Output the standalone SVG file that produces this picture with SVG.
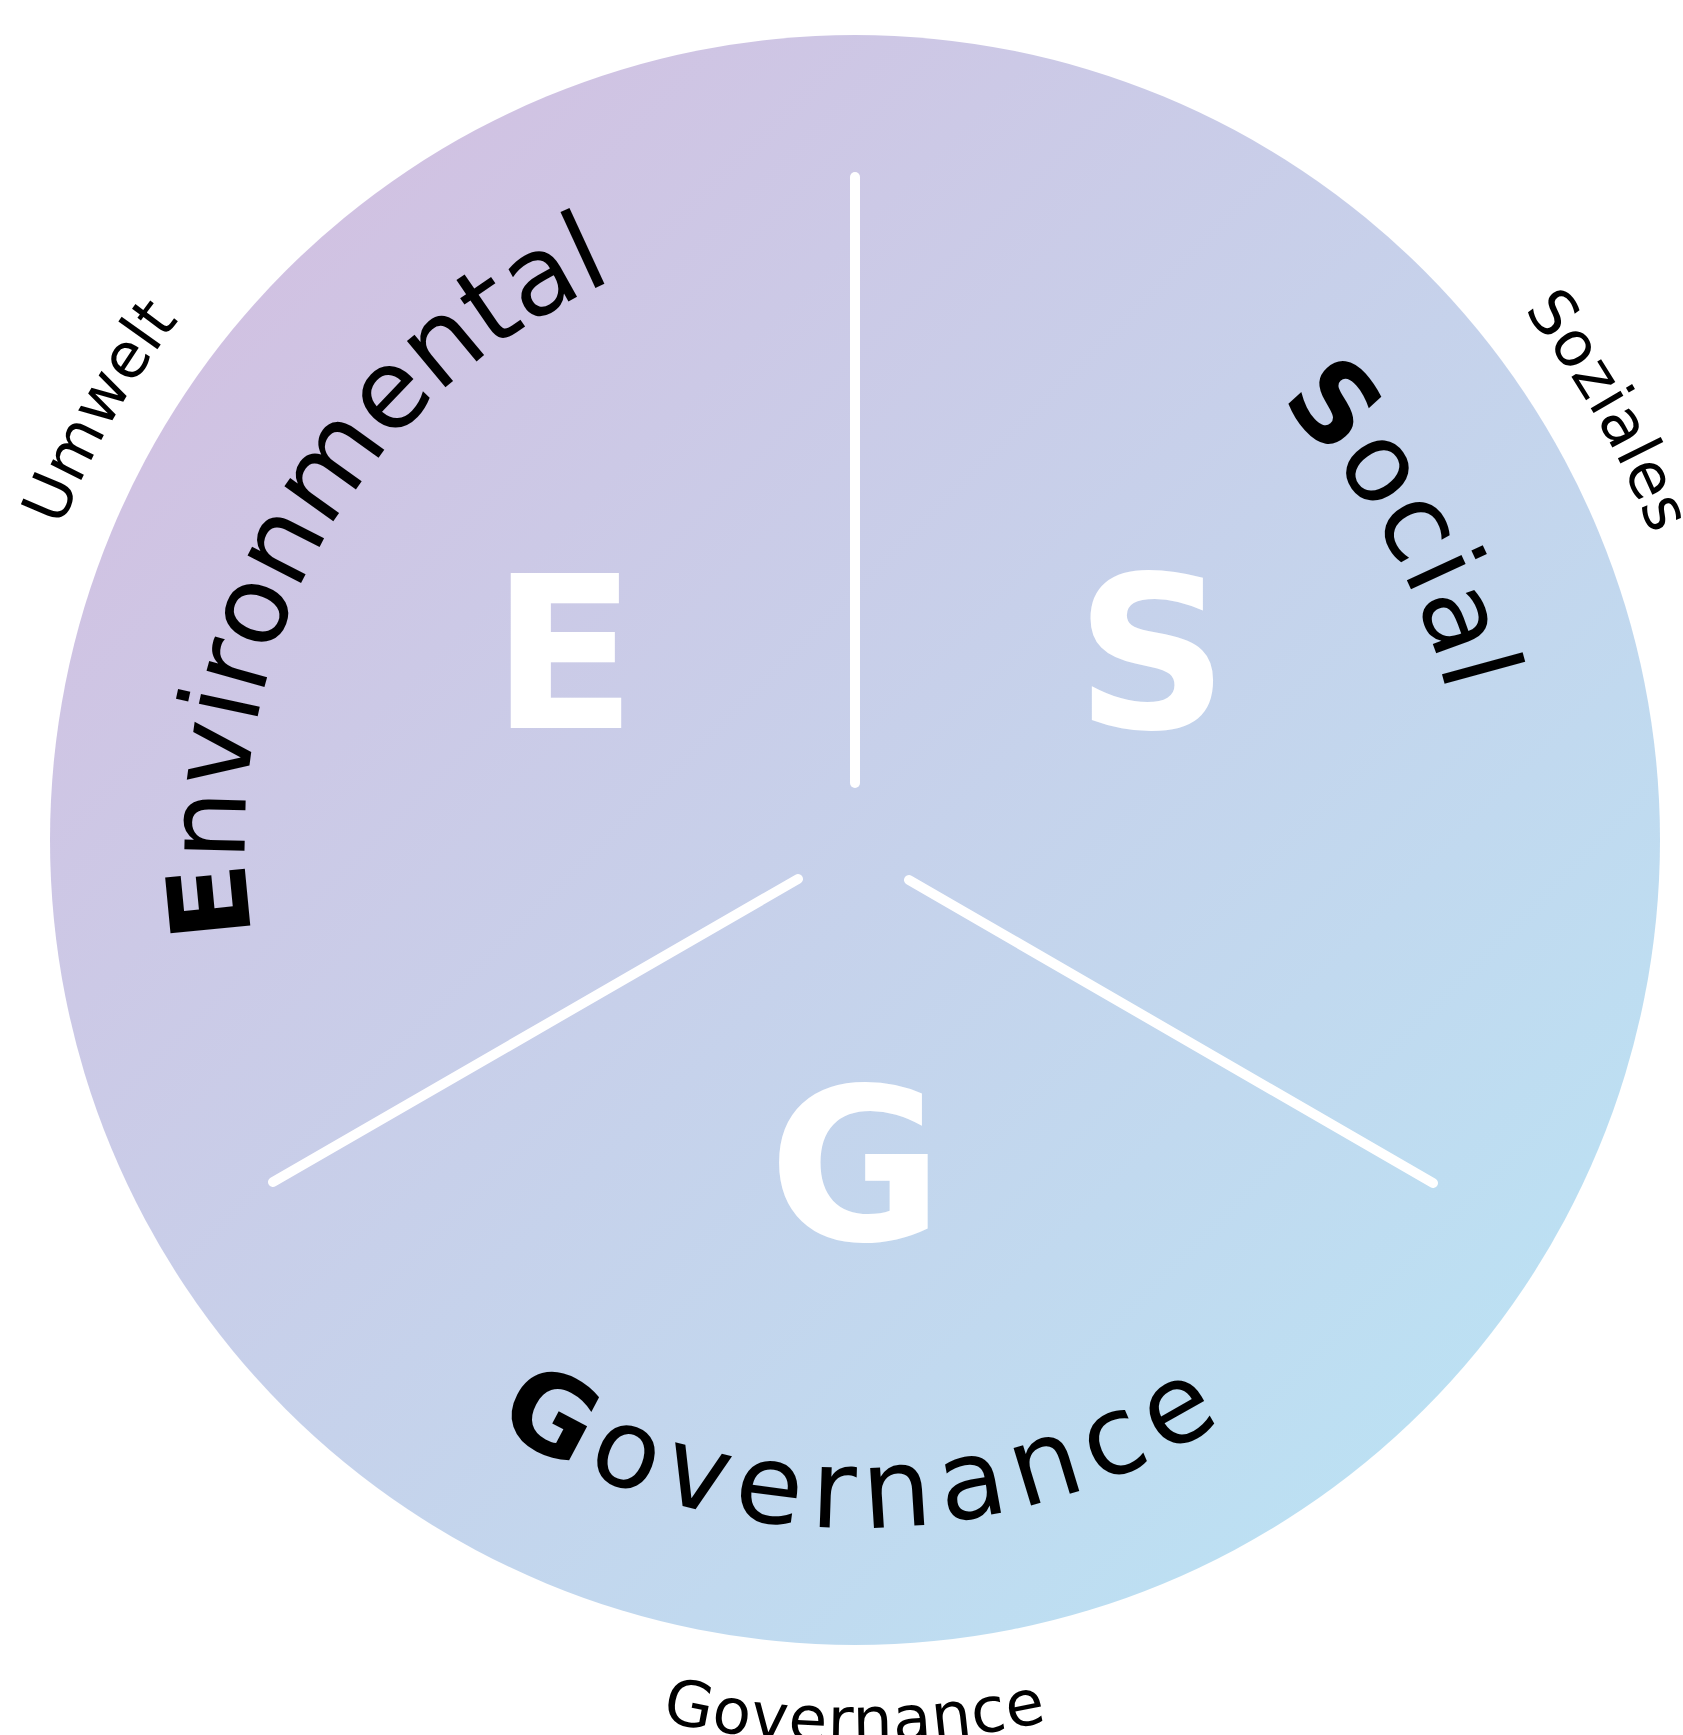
<svg xmlns="http://www.w3.org/2000/svg" xmlns:xlink="http://www.w3.org/1999/xlink" width="1683" height="1735" viewBox="0 0 1683 1735">
  <defs>
    <linearGradient id="bg" x1="0" y1="0" x2="1" y2="1">
      <stop offset="0" stop-color="#d5bcdf"/>
      <stop offset="1" stop-color="#b8e6f6"/>
    </linearGradient>
    <path id="pEnv" d="M 252.5 935.4 A 610 610 0 0 1 749.1 239.3"/>
    <path id="pSoc" d="M 1278.7 401.2 A 610 610 0 0 1 1465 840"/>
    <path id="pGov" d="M 494.5 1426.0 A 688 688 0 0 0 1382.0 1282.2"/>
    <path id="pUmw" d="M 61.4 527.4 A 853 853 0 0 1 428.5 101.3"/>
    <path id="pSoz" d="M 1523.5 310.2 A 853 853 0 0 1 1708 840"/>
    <path id="pGov2" d="M 661.3 1721.0 A 901 901 0 0 0 1306 1621.2"/>
    <style>
      .big { font-family: "DejaVu Sans", "Open Sans", sans-serif; font-size: 110px; fill: #000; }
      .small { font-family: "DejaVu Sans", "Open Sans", sans-serif; font-size: 63px; fill: #000; }
      .b { font-weight: 700; }
      .letter { font-family: "DejaVu Sans", "Open Sans", sans-serif; font-weight: 700; font-size: 213px; fill: #fff; text-anchor: middle; }
      .div { stroke: #fff; stroke-width: 10; stroke-linecap: round; fill: none; }
    </style>
  </defs>

  <circle id="disc" cx="855" cy="840" r="805" fill="url(#bg)"/>

  <g id="connectors">
    <line class="div" x1="855" y1="177" x2="855" y2="783"/>
    <line class="div" x1="798" y1="879" x2="273" y2="1182"/>
    <line class="div" x1="909" y1="880" x2="1433" y2="1183"/>
  </g>

  <g id="environmental">
    <text class="letter" x="564" y="728">E</text>
    <text class="big"><textPath href="#pEnv" xlink:href="#pEnv" textLength="806" lengthAdjust="spacing"><tspan class="b">E</tspan>nvironmental</textPath></text>
    <text class="small"><textPath href="#pUmw" xlink:href="#pUmw" textLength="239" lengthAdjust="spacing">Umwelt</textPath></text>
  </g>

  <g id="social">
    <text class="letter" x="1152" y="728">S</text>
    <text class="big"><textPath href="#pSoc" xlink:href="#pSoc" textLength="342" lengthAdjust="spacing"><tspan class="b">S</tspan>ocial</textPath></text>
    <text class="small"><textPath href="#pSoz" xlink:href="#pSoz" textLength="260" lengthAdjust="spacing">Soziales</textPath></text>
  </g>

  <g id="governance">
    <text class="letter" x="856" y="1240">G</text>
    <text class="big"><textPath href="#pGov" xlink:href="#pGov" textLength="767" lengthAdjust="spacing"><tspan class="b">G</tspan>overnance</textPath></text>
    <text class="small"><textPath href="#pGov2" xlink:href="#pGov2" textLength="389" lengthAdjust="spacing">Governance</textPath></text>
  </g>
</svg>
